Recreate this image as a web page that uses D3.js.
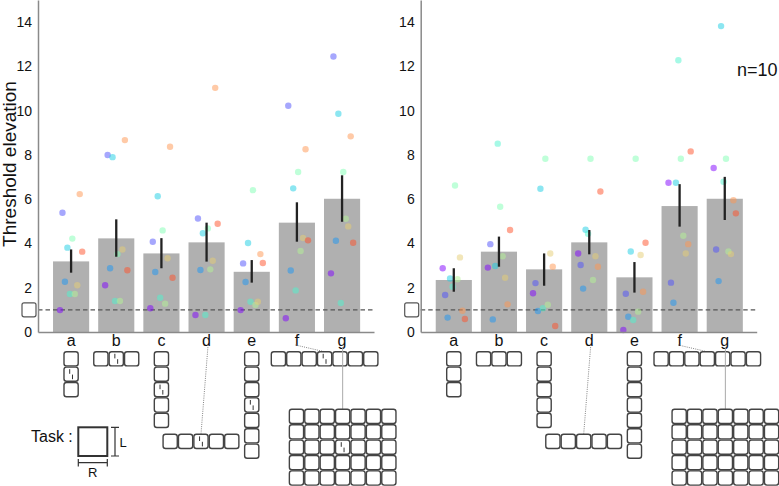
<!DOCTYPE html>
<html>
<head>
<meta charset="utf-8">
<script src="https://cdn.jsdelivr.net/npm/d3@7"></script>
<style>
	body { margin: 0; background: #fff; }
	text { font-family: "Liberation Sans", Arial, sans-serif; fill: #111; }
</style>
</head>
<body>
<div id="chart"></div>
<script>
const categories = ["a", "b", "c", "d", "e", "f", "g"];
const yTicks = [0, 2, 4, 6, 8, 10, 12, 14];
const refLevel = 1;

// left panel (with target)
const leftBars = [3.19, 4.23, 3.55, 4.05, 2.72, 4.94, 6.02];
const leftErrLow = [2.68, 3.40, 2.88, 3.18, 2.23, 4.08, 4.98];
const leftErrHigh = [3.73, 5.09, 4.24, 4.94, 3.25, 5.86, 7.08];
const leftDots = [
	[0.99, 5.39, 2.27, 3.81, 1.72, 4.22, 1.72, 2.11, 6.23, 3.63],
	[2.11, 8.00, 2.88, 7.90, 1.40, 3.52, 1.40, 3.73, 8.67, 2.79],
	[1.07, 4.08, 2.71, 6.13, 1.55, 4.59, 1.28, 3.33, 8.37, 2.45],
	[0.77, 5.13, 2.80, 4.46, 0.77, 4.68, 2.83, 3.22, 11.03, 4.89],
	[0.99, 3.10, 2.26, 4.02, 1.37, 6.41, 1.22, 1.37, 3.52, 3.12],
	[0.62, 10.22, 2.78, 6.49, 1.88, 7.23, 3.66, 4.25, 8.26, 4.14],
	[2.65, 12.45, 4.12, 9.86, 1.31, 7.23, 5.12, 4.77, 8.84, 4.03]
];

// right panel (no target)
const rightBars = [2.35, 3.63, 2.83, 4.05, 2.47, 5.69, 6.02];
const rightErrLow = [1.82, 2.95, 2.09, 3.51, 1.78, 4.76, 5.06];
const rightErrHigh = [2.88, 4.31, 3.55, 4.61, 3.16, 6.68, 7.01];
const rightDots = [
	[2.88, 1.67, 0.65, 2.42, 2.05, 6.62, 2.38, 3.37, 0.96, 0.59],
	[2.91, 3.97, 0.57, 2.98, 8.51, 5.66, 3.42, 2.45, 1.25, 4.61],
	[1.75, 2.21, 0.95, 6.47, 1.07, 7.83, 1.23, 3.55, 2.95, 0.27],
	[3.55, 3.03, 1.96, 4.62, 4.44, 7.83, 2.35, 3.42, 2.95, 6.35],
	[0.09, 1.73, 0.69, 3.64, 0.54, 7.83, 0.92, 3.48, 1.82, 4.03],
	[6.74, 2.23, 1.32, 6.74, 12.28, 7.83, 4.35, 3.55, 3.97, 8.16],
	[7.41, 3.73, 2.30, 13.82, 6.79, 7.83, 3.64, 3.52, 5.95, 5.36]
];

// flanker configurations (columns x rows of squares)
const configCols = [1, 3, 1, 5, 1, 7, 7];
const configRows = [3, 1, 5, 1, 7, 1, 5];

// subject colours (rainbow map)
const subjectColors = ["#8000ff", "#4d4ffc", "#1a96f3", "#1acee3", "#4df3ce",
	"#80ffb4", "#b3f396", "#e6ce74", "#ff964f", "#ff4f28"];

// where each configuration sits under its bar
const configLayout = [
	{dx: 0, top: 351.7, link: null},
	{dx: 0, top: 351.7, link: null},
	{dx: 0, top: 351.7, link: null},
	{dx: -5.6, top: 434.3, link: "dotted"},
	{dx: 0, top: 351.7, link: null},
	{dx: 27.7, top: 351.7, link: "dotted"},
	{dx: 0.6, top: 409.3, link: "solid"}
];

const width = 779, height = 486;
const svg = d3.select("#chart").append("svg")
	.attr("width", width)
	.attr("height", height);

const y = d3.scaleLinear().domain([0, 15]).range([332, 0]);
const stride = 15.4, cell = 14.2;

function drawPanel(spineX, bars, errLow, errHigh, dots, withTarget) {
	const g = svg.append("g");
	const x = d3.scaleBand()
		.domain(categories)
		.range([spineX, spineX + 336])
		.paddingInner(0.2)
		.paddingOuter(0.32)
		.align(0.52);
	const cx = c => x(c) + x.bandwidth() / 2;
	const jitter = d3.scalePoint().domain(d3.range(10)).range([-11.1, 11.1]);

	g.selectAll("rect.bar")
		.data(bars)
		.join("rect")
		.attr("class", "bar")
		.attr("x", (d, i) => x(categories[i]))
		.attr("y", d => y(d))
		.attr("width", x.bandwidth())
		.attr("height", d => y(0) - y(d))
		.attr("fill", "#b0b0b0");

	// reference level
	g.append("line")
		.attr("x1", spineX).attr("x2", spineX + 336)
		.attr("y1", y(refLevel)).attr("y2", y(refLevel))
		.attr("stroke", "#555").attr("stroke-width", 1.3)
		.attr("stroke-dasharray", "4.5,3");
	g.append("rect")
		.attr("x", spineX - 16).attr("y", y(refLevel) - 7)
		.attr("width", 14).attr("height", 14).attr("rx", 2)
		.attr("fill", "#fff").attr("stroke", "#555").attr("stroke-width", 1.2);

	dots.forEach((vals, ci) => {
		g.append("g").selectAll("circle")
			.data(vals)
			.join("circle")
			.attr("cx", (d, si) => cx(categories[ci]) + jitter(si))
			.attr("cy", d => y(d))
			.attr("r", 3.2)
			.attr("fill", (d, si) => subjectColors[si])
			.attr("fill-opacity", 0.5);
	});

	g.selectAll("line.err")
		.data(bars)
		.join("line")
		.attr("class", "err")
		.attr("x1", (d, i) => cx(categories[i]))
		.attr("x2", (d, i) => cx(categories[i]))
		.attr("y1", (d, i) => y(errLow[i]))
		.attr("y2", (d, i) => y(errHigh[i]))
		.attr("stroke", "#222").attr("stroke-width", 2.3);

	const yAxis = d3.axisLeft(y).tickValues(yTicks).tickSize(0).tickSizeOuter(0).tickPadding(6);
	const ya = g.append("g").attr("transform", "translate(" + spineX + ",0)").call(yAxis);
	ya.attr("font-size", 14).attr("font-family", null);
	ya.select(".domain").attr("stroke", "#8a8a8a").attr("stroke-width", 1.5);
	ya.selectAll("text").attr("fill", "#111");

	const xAxis = d3.axisBottom(x).tickSize(0).tickSizeOuter(0).tickPadding(2.5);
	const xa = g.append("g").attr("transform", "translate(0," + y(0) + ")").call(xAxis);
	xa.attr("font-size", 16).attr("font-family", null);
	xa.select(".domain").attr("stroke", "#8a8a8a").attr("stroke-width", 1.5);
	xa.selectAll("text").attr("fill", "#111");

	// configurations
	categories.forEach((c, ci) => {
		const lay = configLayout[ci];
		const nc = configCols[ci], nr = configRows[ci];
		const centerX = cx(c) + lay.dx;
		const left = centerX - (nc * stride - (stride - cell)) / 2;
		const midC = Math.floor(nc / 2), midR = Math.floor(nr / 2);

		if (lay.link) {
			const lx1 = lay.link === "solid" ? cx(c) + 0.6 : cx(c) + (lay.dx < 0 ? 1.5 : -1.5);
			const ly1 = lay.link === "solid" ? 347 : 345;
			g.append("line")
				.attr("x1", lx1).attr("y1", ly1)
				.attr("x2", left + midC * stride + cell / 2).attr("y2", lay.top)
				.attr("stroke", lay.link === "solid" ? "#aaa" : "#777")
				.attr("stroke-width", lay.link === "solid" ? 1 : 0.9)
				.attr("stroke-dasharray", lay.link === "solid" ? null : "1,1.2");
		}

		const cells = [];
		for (let r = 0; r < nr; r++)
			for (let k = 0; k < nc; k++) cells.push({r, k});
		g.append("g").selectAll("rect")
			.data(cells)
			.join("rect")
			.attr("x", d => left + d.k * stride)
			.attr("y", d => lay.top + d.r * stride)
			.attr("width", cell).attr("height", cell).attr("rx", 2.5)
			.attr("fill", "#fff").attr("stroke", "#444").attr("stroke-width", 1.4);

		if (withTarget) {
			const tx = left + midC * stride + cell / 2;
			const ty = lay.top + midR * stride + cell / 2;
			g.append("path")
				.attr("d", "M" + (tx - 1.4) + "," + (ty - 5) + "V" + (ty - 0.4) +
					"M" + (tx + 1.4) + "," + (ty + 0.4) + "V" + (ty + 5))
				.attr("stroke", "#333").attr("stroke-width", 1).attr("fill", "none");
		}
	});
}

drawPanel(38, leftBars, leftErrLow, leftErrHigh, leftDots, true);
drawPanel(420.7, rightBars, rightErrLow, rightErrHigh, rightDots, false);

svg.append("text")
	.attr("transform", "translate(15.5,164) rotate(-90)")
	.attr("text-anchor", "middle")
	.attr("font-size", 19)
	.text("Threshold elevation");

svg.append("text")
	.attr("x", 737).attr("y", 76)
	.attr("font-size", 18)
	.text("n=10");

// task legend
const legend = svg.append("g");
legend.append("text").attr("x", 31).attr("y", 442).attr("font-size", 16).text("Task :");
legend.append("rect").attr("x", 78.3).attr("y", 427.3).attr("width", 29).attr("height", 28.7)
	.attr("fill", "#fff").attr("stroke", "#333").attr("stroke-width", 2);
legend.append("path")
	.attr("d", "M115,427.3V456M111,427.3H119M111,456H119M78.3,462.7H107.3M78.3,459V466.5M107.3,459V466.5")
	.attr("stroke", "#333").attr("stroke-width", 1.2).attr("fill", "none");
legend.append("text").attr("x", 119.5).attr("y", 447).attr("font-size", 13).text("L");
legend.append("text").attr("x", 92.8).attr("y", 477).attr("font-size", 13).attr("text-anchor", "middle").text("R");
</script>
</body>
</html>
